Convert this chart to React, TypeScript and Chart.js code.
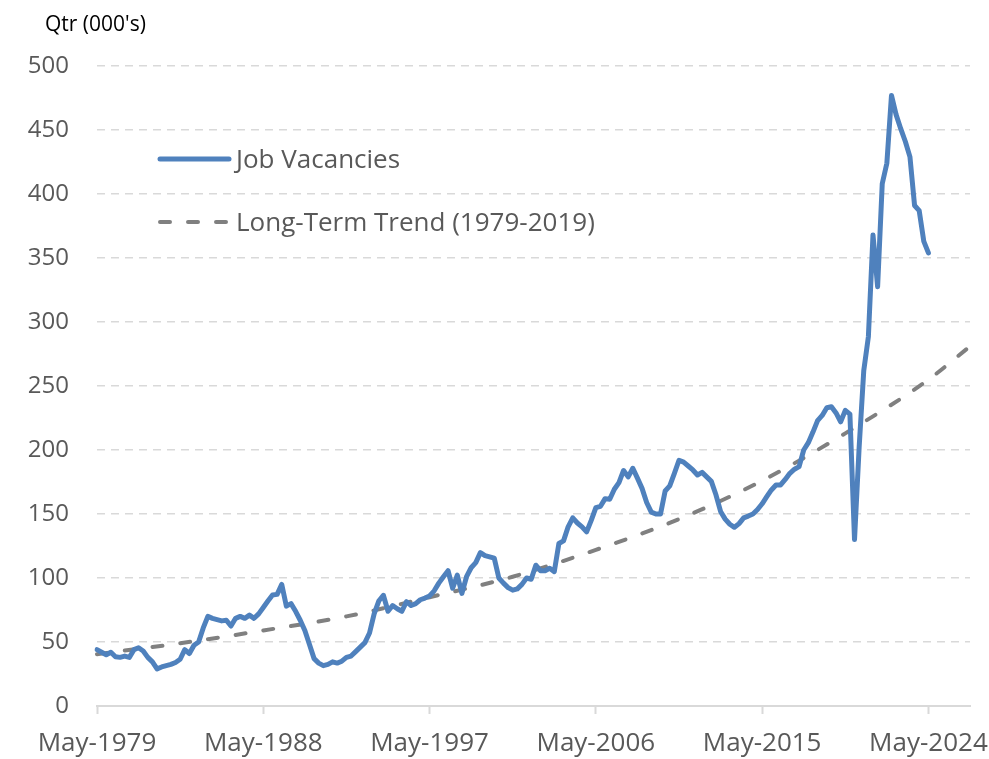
import { useEffect, useRef } from 'react';
import { Chart, registerables } from 'chart.js';

Chart.register(...registerables);

const START_YEAR = 1979;
const QUARTER_MONTHS = ['May', 'Aug', 'Nov', 'Feb'];
const CATEGORY_COUNT = 190;
const LABEL_EVERY = 36;

const Y_MIN = 0;
const Y_MAX = 500;
const Y_STEP = 50;

const TITLE = "Qtr (000's)";
const SERIES_NAMES = ['Job Vacancies', 'Long-Term Trend (1979-2019)'];

// Job vacancies ('000), quarterly from May-1979 to May-2024
const vacancies = [
  44, 42, 40, 42, 38.5, 38, 39, 38, 44, 45.5,
  43, 38, 34.5, 29, 30.5, 31.5, 32.5, 34, 36.5, 44,
  41, 47.5, 50, 61, 70, 68.5, 67.5, 66.5, 67, 62.5,
  68.5, 70, 68.5, 71, 68.5, 72, 77, 82, 86.7, 87.2,
  95, 78, 80, 74, 67, 59, 48, 37, 33.5, 31.5,
  32.5, 34.5, 33.5, 35, 38, 39, 42.5, 46, 49.5, 57,
  72, 82, 86.5, 74, 78.5, 76, 74, 81.5, 78.5, 80,
  83, 84.3, 86, 90, 96, 101, 105.7, 92, 102.3, 88,
  101, 108, 112, 119.8, 117.5, 116.5, 115.5, 100, 96, 92.5,
  90.5, 91.5, 95, 100, 99, 110, 105.7, 105.7, 107.6, 105,
  127, 129, 140, 147, 143, 140, 136, 145, 155, 156,
  162, 161.5, 169.3, 174.5, 184, 179, 185.7, 178, 170, 159,
  151.5, 150, 150, 168, 172, 181.8, 192, 190.5, 187.5, 184.4,
  180.5, 182.5, 179, 175.5, 165, 152, 146, 142, 139.6, 142.5,
  147, 148.4, 150, 153.5, 158, 163.5, 168.8, 172.7, 172.7, 177,
  181.8, 185, 187, 200, 205.7, 214, 223, 227, 233, 233.8,
  229, 222, 231, 228, 130, 202, 262, 288.5, 368, 327.6,
  408, 424, 477, 462, 451, 441, 429, 391, 387, 363,
  354,
];

// Long-term trend read at selected quarters (index into categories)
const trendIndex = [0, 18, 36, 54, 72, 90, 108, 126, 144, 162, 180, 189];
const trendValues = [40.5, 49, 59, 70, 85, 101, 122, 146, 176, 213, 255, 281];

const BLUE = '#4f81bd';
const GRAY = '#808080';
const GRID = '#d9d9d9';
const TEXT = '#595959';
const FONT = "'Open Sans', sans-serif";

function buildLabels(): string[] {
  const out: string[] = [];
  for (let i = 0; i < CATEGORY_COUNT; i++) {
    const q = i % 4;
    const year = START_YEAR + Math.floor(i / 4) + (q === 3 ? 1 : 0);
    out.push(`${QUARTER_MONTHS[q]}-${year}`);
  }
  return out;
}

function buildTrend(): (number | null)[] {
  const arr: (number | null)[] = new Array(CATEGORY_COUNT).fill(null);
  trendIndex.forEach((idx, k) => {
    arr[idx] = trendValues[k];
  });
  return arr;
}

const overlayPlugin = {
  id: 'overlay',
  afterDraw(chart: any) {
    const ctx = chart.ctx as CanvasRenderingContext2D;
    ctx.save();
    ctx.textBaseline = 'alphabetic';
    ctx.textAlign = 'left';
    ctx.font = `21px ${FONT}`;
    ctx.fillStyle = '#000000';
    ctx.fillText(TITLE, 45, 31);

    // legend
    ctx.lineCap = 'round';
    ctx.strokeStyle = BLUE;
    ctx.lineWidth = 5;
    ctx.beginPath();
    ctx.moveTo(160, 159);
    ctx.lineTo(229, 159);
    ctx.stroke();

    ctx.strokeStyle = GRAY;
    ctx.lineWidth = 4;
    ctx.setLineDash([10, 18]);
    ctx.beginPath();
    ctx.moveTo(160, 222);
    ctx.lineTo(229, 222);
    ctx.stroke();
    ctx.setLineDash([]);

    ctx.font = `26px ${FONT}`;
    ctx.fillStyle = TEXT;
    ctx.fillText(SERIES_NAMES[0], 236, 168);
    ctx.fillText(SERIES_NAMES[1], 236, 231);
    ctx.restore();
  },
};

export default function App() {
  const canvasRef = useRef<HTMLCanvasElement | null>(null);

  useEffect(() => {
    if (!canvasRef.current) return;
    const labels = buildLabels();
    const chart = new Chart(canvasRef.current, {
      type: 'line',
      data: {
        labels,
        datasets: [
          {
            label: SERIES_NAMES[0],
            data: vacancies,
            borderColor: BLUE,
            backgroundColor: BLUE,
            borderWidth: 5,
            pointRadius: 0,
            pointHoverRadius: 0,
            tension: 0,
            borderJoinStyle: 'round',
            borderCapStyle: 'round',
            order: 1,
          },
          {
            label: SERIES_NAMES[1],
            data: buildTrend(),
            borderColor: GRAY,
            backgroundColor: GRAY,
            borderWidth: 4,
            borderDash: [10, 18],
            borderCapStyle: 'round',
            pointRadius: 0,
            pointHoverRadius: 0,
            spanGaps: true,
            tension: 0.4,
            cubicInterpolationMode: 'monotone',
            order: 2,
          },
        ],
      },
      options: {
        responsive: false,
        animation: false,
        events: [],
        layout: { padding: { top: 66, right: 19, left: 0, bottom: 0 } },
        plugins: {
          legend: { display: false },
          tooltip: { enabled: false },
          title: { display: false },
        },
        scales: {
          x: {
            type: 'category',
            offset: false,
            grid: {
              display: true,
              drawOnChartArea: false,
              drawTicks: true,
              tickLength: 8,
              tickWidth: 2,
              color: (c: any) => (c.index % LABEL_EVERY === 0 ? GRID : 'rgba(0,0,0,0)'),
              tickColor: (c: any) => (c.index % LABEL_EVERY === 0 ? GRID : 'rgba(0,0,0,0)'),
            },
            border: { display: true, color: GRID, width: 2 },
            ticks: {
              autoSkip: false,
              maxRotation: 0,
              minRotation: 0,
              padding: 14,
              color: TEXT,
              font: { family: FONT, size: 26 },
              callback: (_v: any, i: number) => (i % LABEL_EVERY === 0 ? labels[i] : ''),
            },
            afterFit: (scale: any) => {
              scale.height = 53;
            },
          },
          y: {
            min: Y_MIN,
            max: Y_MAX,
            ticks: {
              stepSize: Y_STEP,
              padding: 28,
              color: TEXT,
              font: { family: FONT, size: 24 },
            },
            grid: {
              drawTicks: false,
              lineWidth: 1.5,
              color: (c: any) => (c.tick && c.tick.value === 0 ? 'rgba(0,0,0,0)' : GRID),
            },
            border: { display: false, dash: [8, 6] },
            afterFit: (scale: any) => {
              scale.width = 97;
            },
          },
        },
      },
      plugins: [overlayPlugin],
    });
    return () => chart.destroy();
  }, []);

  return (
    <div style={{ position: 'absolute', left: 0, top: 0, width: 989, height: 759, background: '#ffffff' }}>
      <canvas ref={canvasRef} width={989} height={759} style={{ width: 989, height: 759, display: 'block' }} />
    </div>
  );
}
